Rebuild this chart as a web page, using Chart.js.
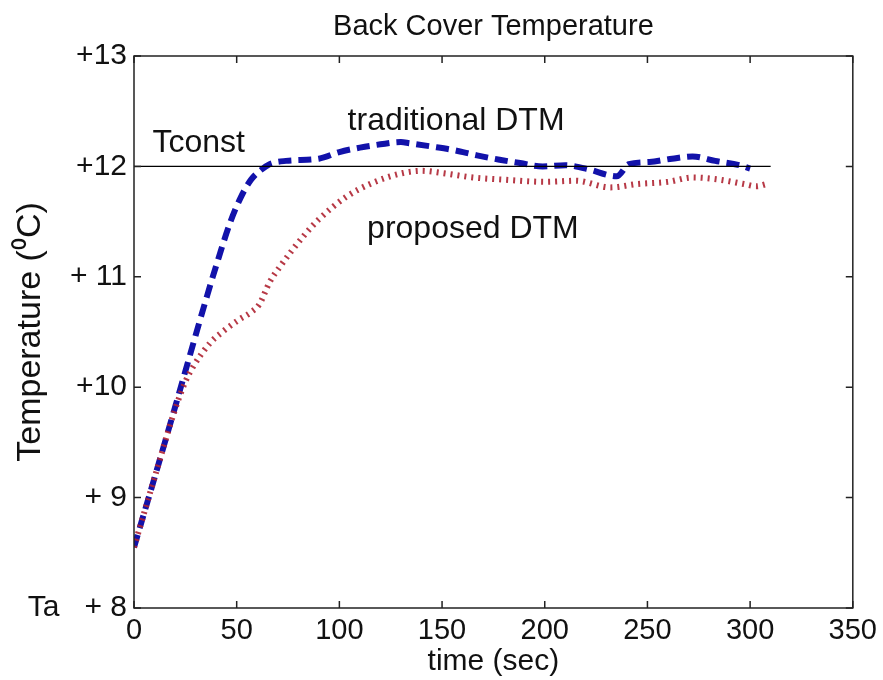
<!DOCTYPE html>
<html>
<head>
<meta charset="utf-8">
<title>Back Cover Temperature</title>
<script src="https://cdn.jsdelivr.net/npm/chart.js@4.4.1/dist/chart.umd.min.js"></script>
<style>
  html, body { margin: 0; padding: 0; background: #ffffff; }
  #wrap { width: 883px; height: 680px; }
</style>
</head>
<body>
<div id="wrap"><canvas id="tempChart" width="883" height="680"></canvas></div>
<script>
// ---- data ----
const tradTime = [0, 10, 20, 30, 35, 40, 47, 52, 57, 62, 66, 74, 90, 100, 110, 120, 130, 134, 145, 155, 167, 178, 188, 199, 210, 222, 231, 235, 241, 251, 262, 272, 283, 295, 300];
const tradTemp = [8.55, 9.18, 9.82, 10.47, 10.79, 11.1, 11.5, 11.72, 11.88, 11.97, 12.02, 12.05, 12.07, 12.13, 12.17, 12.2, 12.22, 12.21, 12.18, 12.15, 12.1, 12.06, 12.03, 12.0, 12.01, 11.97, 11.92, 11.91, 12.02, 12.04, 12.07, 12.09, 12.05, 12.01, 11.98];

const propTime = [0, 10, 20, 25, 28.6, 37, 43, 51, 57, 61, 66, 71, 77, 84, 90, 103, 116, 131, 140, 150, 165, 180, 200, 215, 232, 245, 260, 272, 285, 297, 303, 308];
const propTemp = [8.55, 9.18, 9.8, 10.05, 10.18, 10.4, 10.5, 10.61, 10.68, 10.75, 10.95, 11.09, 11.24, 11.4, 11.52, 11.72, 11.85, 11.94, 11.96, 11.94, 11.9, 11.88, 11.86, 11.87, 11.81, 11.84, 11.86, 11.9, 11.88, 11.84, 11.82, 11.84];

const constTime = [0, 310];
const constTemp = [12, 12];

const yTickValues = [8, 9, 10, 11, 12, 13];
const yTickLabels = ["Ta   + 8", "+ 9", "+10", "+ 11", "+12", "+13"];

const noteTexts = ["traditional DTM", "proposed DTM", "Tconst"];
const noteTime = [104, 113.5, 9];
const noteTemp = [12.33, 11.35, 12.13];

const FONT = "'Liberation Sans', Arial, Helvetica, sans-serif";

function toPoints(xs, ys) {
  return xs.map((x, i) => ({ x: x, y: ys[i] }));
}

// box with inward ticks, title and in-plot labels
const matlabLook = {
  id: "matlabLook",
  afterDraw(chart) {
    const ctx = chart.ctx;
    const area = chart.chartArea;
    const xs = chart.scales.x;
    const ys = chart.scales.y;

    ctx.save();
    ctx.strokeStyle = "#222222";
    ctx.lineWidth = 1.5;
    ctx.strokeRect(area.left, area.top, area.right - area.left, area.bottom - area.top);

    const len = 7;
    xs.ticks.forEach(t => {
      const px = xs.getPixelForValue(t.value);
      ctx.beginPath();
      ctx.moveTo(px, area.bottom); ctx.lineTo(px, area.bottom - len);
      ctx.moveTo(px, area.top); ctx.lineTo(px, area.top + len);
      ctx.stroke();
    });
    ys.ticks.forEach(t => {
      const py = ys.getPixelForValue(t.value);
      ctx.beginPath();
      ctx.moveTo(area.left, py); ctx.lineTo(area.left + len, py);
      ctx.moveTo(area.right, py); ctx.lineTo(area.right - len, py);
      ctx.stroke();
    });

    ctx.fillStyle = "#111111";
    ctx.font = "29px " + FONT;
    ctx.textAlign = "center";
    ctx.textBaseline = "alphabetic";
    ctx.fillText("Back Cover Temperature", (area.left + area.right) / 2, 35);

    ctx.textAlign = "left";
    ctx.font = "32px " + FONT;
    noteTexts.forEach((txt, i) => {
      ctx.fillText(txt, xs.getPixelForValue(noteTime[i]), ys.getPixelForValue(noteTemp[i]));
    });
    ctx.restore();
  }
};

new Chart(document.getElementById("tempChart"), {
  type: "line",
  data: {
    datasets: [
      {
        label: "Tconst",
        data: toPoints(constTime, constTemp),
        borderColor: "#000000",
        borderWidth: 1.3,
        pointRadius: 0,
        tension: 0
      },
      {
        label: "proposed DTM",
        data: toPoints(propTime, propTemp),
        borderColor: "rgba(175, 35, 50, 0.9)",
        borderWidth: 6,
        borderDash: [2, 5],
        pointRadius: 0,
        cubicInterpolationMode: "monotone"
      },
      {
        label: "traditional DTM",
        data: toPoints(tradTime, tradTemp),
        borderColor: "#1212aa",
        borderWidth: 6,
        borderDash: [13, 7],
        pointRadius: 0,
        cubicInterpolationMode: "monotone"
      }
    ]
  },
  options: {
    responsive: false,
    animation: false,
    layout: {
      padding: { top: 56, right: 27, left: 0, bottom: 0 }
    },
    plugins: {
      legend: { display: false },
      tooltip: { enabled: false }
    },
    scales: {
      x: {
        type: "linear",
        min: 0,
        max: 350,
        grid: { display: false, drawTicks: false },
        border: { display: false },
        ticks: {
          stepSize: 50,
          padding: 6,
          color: "#111111",
          font: { family: FONT, size: 29 },
          maxRotation: 0
        },
        title: {
          display: true,
          text: "time (sec)",
          color: "#111111",
          font: { family: FONT, size: 30 },
          padding: { top: 0, bottom: 0 }
        },
        afterFit(scale) { scale.height = 72; }
      },
      y: {
        min: 8,
        max: 13,
        grid: { display: false, drawTicks: false },
        border: { display: false },
        afterBuildTicks(scale) {
          scale.ticks = yTickValues.map(v => ({ value: v }));
        },
        ticks: {
          padding: 7,
          color: "#111111",
          font: { family: FONT, size: 30 },
          callback(value) {
            const i = yTickValues.indexOf(value);
            return i >= 0 ? yTickLabels[i] : "";
          }
        },
        title: {
          display: true,
          text: "Temperature (\u2070C)",
          color: "#111111",
          font: { family: FONT, size: 34 },
          padding: { top: 10, bottom: 0 }
        },
        afterFit(scale) { scale.width = 134; }
      }
    }
  },
  plugins: [matlabLook]
});
</script>
</body>
</html>
